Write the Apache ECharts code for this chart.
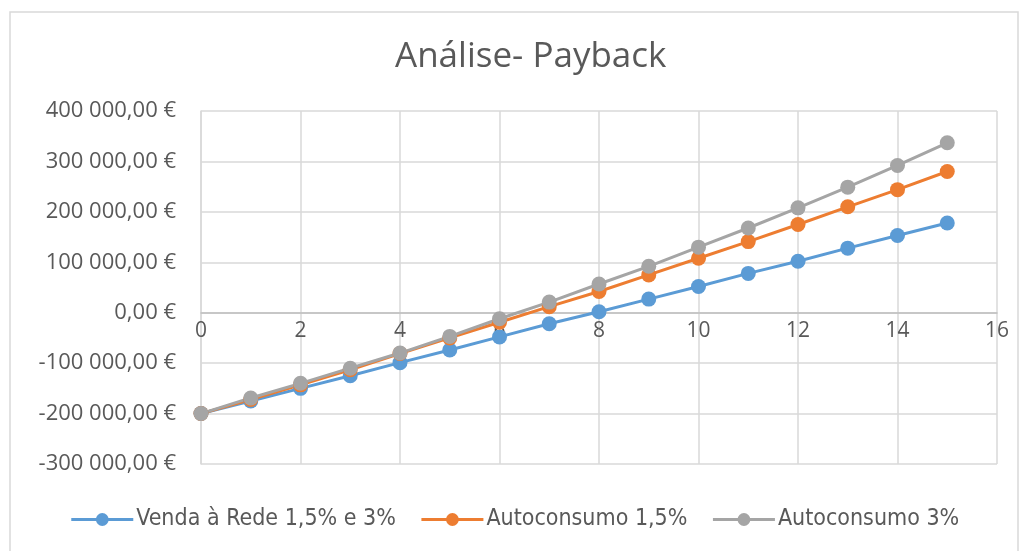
<!DOCTYPE html>
<html>
<head>
<meta charset="utf-8">
<script src="https://cdn.jsdelivr.net/npm/echarts@6/dist/echarts.min.js"></script>
<style>
    html, body { margin: 0; padding: 0; background: #fff; }
    #chart { width: 1029px; height: 551px; }
</style>
</head>
<body>
<div id="chart"></div>
<script>
var years = [0, 1, 2, 3, 4, 5, 6, 7, 8, 9, 10, 11, 12, 13, 14, 15];

// valores
var vendaRede = [-200000, -175000, -150000, -125000, -99000, -74000, -48000, -22000, 2000, 27000, 52000, 78000, 102000, 128000, 153000, 178000];
var autoconsumo15 = [-200000, -172000, -143000, -113000, -81000, -50000, -19000, 12000, 42000, 75000, 108000, 141000, 175000, 210000, 244000, 280000];
var autoconsumo3 = [-200000, -169000, -140000, -110000, -80000, -47000, -12000, 21000, 57000, 92000, 130000, 168000, 208000, 249000, 292000, 337000];

var seriesNames = ['Venda à Rede 1,5% e 3%', 'Autoconsumo 1,5%', 'Autoconsumo 3%'];
var seriesColors = ['#5B9BD5', '#ED7D31', '#A5A5A5'];

function pairs(ys) {
    return years.map(function (x, i) { return [x, ys[i]]; });
}

function euro(v) {
    var s = Math.abs(v).toFixed(0).replace(/\B(?=(\d{3})+(?!\d))/g, ' ');
    return (v < 0 ? '-' : '') + s + ',00 €';
}

var myChart = echarts.init(document.getElementById('chart'));

function makeSeries(name, ys, color) {
    return {
        name: name,
        type: 'line',
        data: pairs(ys),
        symbol: 'circle',
        symbolSize: 15,
        lineStyle: { color: color, width: 3 },
        itemStyle: { color: color },
        z: 3
    };
}

var option = {
    animation: false,
    graphic: [{
        type: 'rect',
        shape: { x: 10, y: 12, width: 1008, height: 560 },
        style: { fill: 'none', stroke: '#D9D9D9', lineWidth: 1.5 },
        silent: true
    }],
    title: {
        text: 'Análise- Payback',
        left: 390,
        top: 35,
        textStyle: {
            color: '#595959',
            fontSize: 35,
            fontWeight: 'normal',
            fontFamily: 'Open Sans'
        }
    },
    legend: {
        bottom: 15,
        left: 'center',
        itemWidth: 62,
        itemHeight: 16,
        itemGap: 24,
        lineStyle: { width: 3 },
        textStyle: {
            color: '#595959',
            fontSize: 23,
            padding: [0, 0, 0, -2],
            fontFamily: '"DejaVu Sans Condensed", "Liberation Sans Narrow", Roboto'
        },
        data: seriesNames
    },
    grid: {
        left: 201,
        right: 32,
        top: 111,
        bottom: 87,
        containLabel: false
    },
    xAxis: {
        type: 'value',
        min: 0,
        max: 16,
        interval: 2,
        offset: -151,
        axisLine: { onZero: false, lineStyle: { color: '#BFBFBF', width: 1.5 } },
        axisTick: { show: false },
        axisLabel: {
            color: '#595959',
            fontSize: 21,
            fontFamily: 'Open Sans',
            margin: 8
        },
        splitLine: { show: true, lineStyle: { color: '#D9D9D9', width: 1.5 } }
    },
    yAxis: {
        type: 'value',
        min: -300000,
        max: 400000,
        interval: 100000,
        axisLine: { show: true, lineStyle: { color: '#D9D9D9', width: 1.5 } },
        axisTick: { show: false },
        axisLabel: {
            color: '#595959',
            fontSize: 22,
            fontFamily: 'Open Sans',
            margin: 25,
            formatter: euro
        },
        splitLine: { show: true, lineStyle: { color: '#D9D9D9', width: 1.5 } }
    },
    series: [
        makeSeries(seriesNames[0], vendaRede, seriesColors[0]),
        makeSeries(seriesNames[1], autoconsumo15, seriesColors[1]),
        makeSeries(seriesNames[2], autoconsumo3, seriesColors[2])
    ]
};

myChart.setOption(option);
</script>
</body>
</html>
